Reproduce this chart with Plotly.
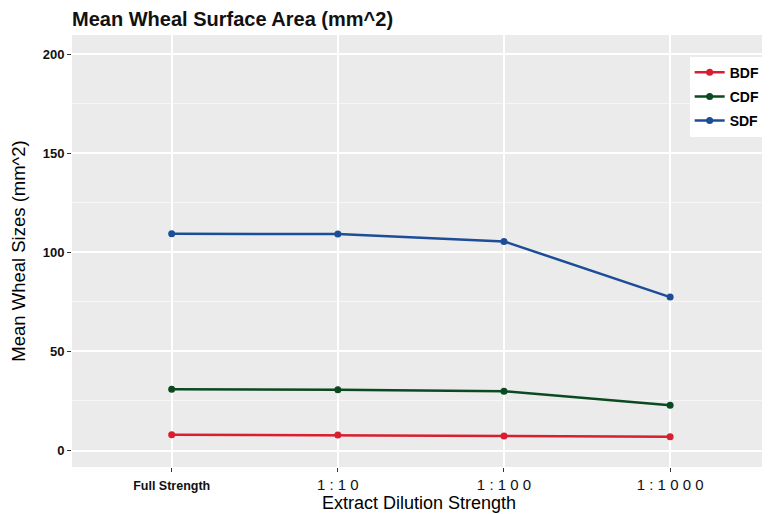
import plotly.graph_objects as go

categories = ["Full Strength", "1:10", "1:100", "1:1000"]
tick_labels = ["<span style='font-size:12.5px;font-weight:bold'>Full Strength</span>",
               "1 : 1 0", "1 : 1 0 0", "1 : 1 0 0 0"]
bdf = [8.0, 7.85, 7.35, 7.0]
cdf = [30.9, 30.7, 29.9, 22.9]
sdf = [109.3, 109.2, 105.5, 77.4]

series = [("BDF", bdf, "#d81e30"), ("CDF", cdf, "#0b4a20"), ("SDF", sdf, "#1d4d96")]
x_idx = list(range(len(categories)))

# page body has an 8px default margin; size the figure to fill the rest of the window
W, H = 762, 506

fig = go.Figure()
for name, vals, col in series:
    fig.add_trace(go.Scatter(x=x_idx, y=vals, name="<b>" + name + "</b>", mode="lines+markers",
                             legendgroup=name,
                             line=dict(color=col, width=2.5),
                             marker=dict(color=col, size=7)))

fig.update_layout(
    width=W, height=H,
    margin=dict(l=64, r=4, t=27, b=47),
    paper_bgcolor="white", plot_bgcolor="#ebebeb",
    font=dict(family="Liberation Sans, Arial, sans-serif", color="black"),
    title=dict(text="<b>Mean Wheal Surface Area (mm^2)</b>", x=64 / W, xanchor="left",
               y=1 - 10.5 / H, yanchor="middle", font=dict(size=20, color="#111")),
    legend=dict(x=0.89, xanchor="left", y=0.95, yanchor="top",
                bgcolor="white", font=dict(size=14), itemwidth=30,
                tracegroupgap=3),
    showlegend=True,
)
fig.update_xaxes(
    range=[-0.6, 3.577], tickmode="array", tickvals=x_idx, ticktext=tick_labels,
    showgrid=True, gridcolor="white", gridwidth=1.5, zeroline=False, automargin=False,
    ticks="outside", ticklen=4, tickcolor="#333", tickfont=dict(size=15, color="#111"),
    title=dict(text="Extract Dilution Strength", font=dict(size=18), standoff=2),
)
fig.update_yaxes(
    range=[-8.3, 209.6], tickvals=[0, 50, 100, 150, 200],
    ticktext=["<b>0</b>", "<b>50</b>", "<b>100</b>", "<b>150</b>", "<b>200</b>"],
    showgrid=True, gridcolor="white", gridwidth=1.5, zeroline=False, automargin=False,
    minor=dict(dtick=25, tick0=25, showgrid=True, gridcolor="#f6f6f6", gridwidth=0.7),
    ticks="outside", ticklen=4, tickcolor="#333", tickfont=dict(size=13, color="#111"),
    title=dict(text="Mean Wheal Sizes (mm^2)", font=dict(size=18.5), standoff=12),
)
fig.write_html("out.html")
